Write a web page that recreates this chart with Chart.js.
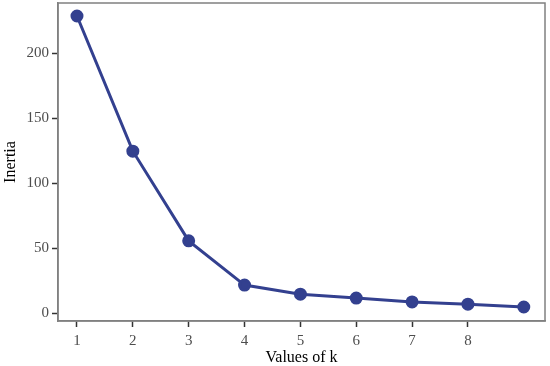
<!DOCTYPE html>
<html><head><meta charset="utf-8">
<script src="https://cdn.jsdelivr.net/npm/chart.js@4"></script>
<style>html,body{margin:0;padding:0;background:#fff}#wrap{width:550px;height:366px}</style>
</head><body><div id="wrap"><canvas id="c"></canvas></div>
<script>
const kValues = [1,2,3,4,5,6,7,8,9];
const inertia = [228.5,124.5,55.5,21.5,14.5,11.5,8.5,6.8,4.6];
const xTicks = [1,2,3,4,5,6,7,8];
const yTicks = [0,50,100,150,200];

const frame = {
  id:'frame',
  afterDraw(chart){
    const {ctx, chartArea:a} = chart;
    ctx.save();
    ctx.strokeStyle = '#808080';
    ctx.lineWidth = 1.5;
    ctx.strokeRect(a.left, a.top, a.right-a.left, a.bottom-a.top);
    ctx.restore();
  }
};
const serif = "'Liberation Serif','DejaVu Serif',serif";
new Chart(document.getElementById('c'), {
  type:'line',
  data:{datasets:[{
    data:kValues.map((k,i)=>({x:k,y:inertia[i]})),
    borderColor:'#33408f', backgroundColor:'#33408f',
    borderWidth:3, pointRadius:5, pointHoverRadius:5, tension:0
  }]},
  options:{
    responsive:true, maintainAspectRatio:false, animation:false,
    layout:{autoPadding:false,padding:{top:3,right:5,left:1,bottom:0}},
    plugins:{legend:{display:false},tooltip:{enabled:false}},
    scales:{
      x:{type:'linear',min:0.66,max:9.38,
        afterBuildTicks(s){s.ticks=xTicks.map(v=>({value:v}));},
        afterFit(s){s.paddingLeft=0;s.paddingRight=0;s.height=45;},
        grid:{drawOnChartArea:false,drawTicks:true,tickLength:6,tickColor:'#333',tickWidth:1.5},
        border:{display:true,color:'#808080',width:1.5},
        ticks:{font:{family:serif,size:15,lineHeight:1.0},color:'#4d4d4d',padding:7,maxRotation:0},
        title:{display:true,text:'Values of k',font:{family:serif,size:16,lineHeight:1.0},color:'#000',padding:{top:0,bottom:0}}
      },
      y:{min:-6.15,max:238.5,
        afterBuildTicks(s){s.ticks=yTicks.map(v=>({value:v}));},
        afterFit(s){s.paddingTop=0;s.paddingBottom=0;s.width=57;},
        grid:{drawOnChartArea:false,drawTicks:true,tickLength:6,tickColor:'#333',tickWidth:1.5},
        border:{display:true,color:'#808080',width:1.5},
        ticks:{font:{family:serif,size:15},color:'#4d4d4d',padding:3},
        title:{display:true,text:'Inertia',font:{family:serif,size:16},color:'#000',padding:{top:0,bottom:5}}
      }
    }
  },
  plugins:[frame]
});
</script></body></html>
